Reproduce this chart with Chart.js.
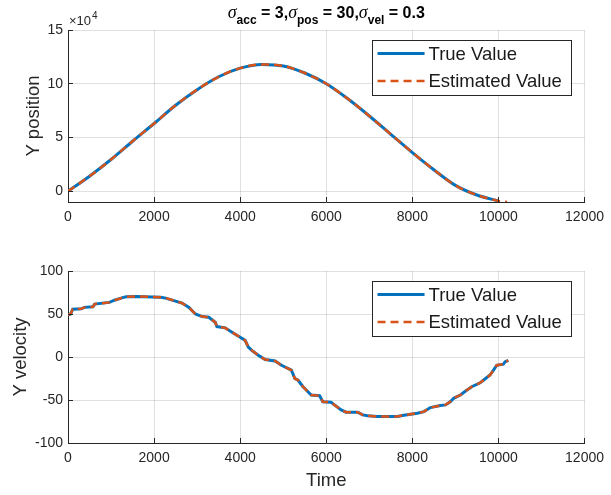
<!DOCTYPE html>
<html><head><meta charset="utf-8">
<script src="https://cdn.jsdelivr.net/npm/chart.js@4/dist/chart.umd.min.js"></script>
<style>
html,body{margin:0;padding:0;background:#fff;}
#wrap{position:relative;width:611px;height:495px;background:#fff;}
canvas{position:absolute;left:0;}
</style></head><body>
<div id="wrap">
<canvas id="c1" width="611" height="240" style="top:0px"></canvas>
<canvas id="c2" width="611" height="255" style="top:240px"></canvas>
</div>
<script>
// ---------- data ----------
const seriesNames = ['True Value', 'Estimated Value'];
const xTicks = [0, 2000, 4000, 6000, 8000, 10000, 12000];
const posTicks = [0, 50000, 100000, 150000];
const velTicks = [-100, -50, 0, 50, 100];
const xTitle = 'Time';
const posTitle = 'Y position';
const velTitle = 'Y velocity';
const posExponent = ['\u00d710', '4'];
const titleParts = [['\u03c3', 'sym'], ['acc', 'sub'], [' = 3,', 'main'], ['\u03c3', 'sym'], ['pos', 'sub'], [' = 30,', 'main'], ['\u03c3', 'sym'], ['vel', 'sub'], [' = 0.3', 'main']];

const posTimeTrue = [0, 500, 1000, 1500, 2000, 2500, 3000, 3500, 4000, 4500, 5000, 5500, 6000, 6500, 7000, 7500, 8000, 8500, 9000, 9500, 10000];
const posTrue = [0, 14000, 29500, 46500, 63000, 80000, 94500, 106500, 114500, 118000, 116500, 110000, 100000, 86000, 70000, 53000, 36000, 20000, 5500, -3500, -9000];
const posTimeEst = [0, 500, 1000, 1500, 2000, 2500, 3000, 3500, 4000, 4500, 5000, 5500, 6000, 6500, 7000, 7500, 8000, 8500, 9000, 9500, 10000, 10200];
const posEst = [0, 14000, 29500, 46500, 63000, 80000, 94500, 106500, 114500, 118000, 116500, 110000, 100000, 86000, 70000, 53000, 36000, 20000, 5500, -3500, -9000, -10000];

const velTime = [0, 60, 110, 310, 380, 580, 620, 960, 1080, 1270, 1350, 1580, 2150, 2270, 2420, 2650, 2810, 2880, 2960, 3115, 3270, 3420, 3460, 3650, 3810, 4000, 4115, 4190, 4270, 4420, 4580, 4810, 4960, 5190, 5270, 5345, 5460, 5575, 5650, 5845, 5920, 6110, 6190, 6345, 6460, 6730, 6845, 6960, 7190, 7650, 7805, 8115, 8270, 8420, 8650, 8770, 8880, 8960, 9115, 9270, 9380, 9575, 9650, 9805, 9885, 9960, 10115, 10150, 10230];
const velTrue = [49, 50, 55.5, 56, 57.7, 58.5, 61.5, 63.5, 66, 69, 70, 70.4, 69.5, 68.5, 66.2, 62.7, 57.7, 54, 50, 47, 46.2, 40.4, 35.4, 33.9, 28.8, 23, 19.3, 11.5, 7.7, 2, -3, -4.6, -9.6, -15.3, -25, -27, -34.6, -40.4, -44.2, -45, -52, -52.6, -55.7, -61.5, -64.2, -64.2, -67.3, -68.4, -69.2, -69.2, -67.7, -65.4, -63.5, -58.8, -56.5, -55.7, -52, -48, -44.2, -38.4, -34.6, -30, -27, -21, -15.3, -9.6, -8.4, -5.8, -4];
const velEst = [49, 50, 55.5, 56, 57.7, 58.5, 61.5, 63.5, 66, 69, 70, 70.4, 69.5, 68.5, 66.2, 62.7, 57.7, 54, 50, 47, 46.2, 40.4, 35.4, 33.9, 28.8, 23, 19.3, 11.5, 7.7, 2, -3, -4.6, -9.6, -15.3, -25, -27, -34.6, -40.4, -44.2, -45, -52, -52.6, -55.7, -61.5, -64.2, -64.2, -67.3, -68.4, -69.2, -69.2, -67.7, -65.4, -63.5, -58.8, -56.5, -55.7, -52, -48, -44.2, -38.4, -34.6, -30, -27, -21, -15.3, -9.6, -8.4, -5.8, -4];

// ---------- style ----------
const FONT = '"Liberation Sans", Arial, Helvetica, sans-serif';
const BLUE = '#0072BD', ORANGE = '#D95319', AXIS = '#262626', GRID = 'rgba(38,38,38,0.14)';
Chart.defaults.font.family = FONT;
Chart.defaults.color = AXIS;

const zip = (xs, ys) => xs.map((x, i) => ({x: x, y: ys[i]}));
const align = (p) => Math.round(p - 0.5) + 0.5;

function decor(isTop) {
  return {
    id: 'decor' + (isTop ? 1 : 2),
    afterDraw(chart) {
      const ctx = chart.ctx, ca = chart.chartArea, xs = chart.scales.x, ys = chart.scales.y;
      ctx.save();
      // inward tick marks
      ctx.strokeStyle = AXIS; ctx.lineWidth = 1;
      ctx.beginPath();
      xs.ticks.forEach(t => { const p = align(xs.getPixelForValue(t.value)); ctx.moveTo(p, ca.bottom); ctx.lineTo(p, ca.bottom - 5); });
      ys.ticks.forEach(t => { const p = align(ys.getPixelForValue(t.value)); ctx.moveTo(ca.left, p); ctx.lineTo(ca.left + 5, p); });
      ctx.stroke();
      // legend
      const lx = ca.right - 213, ly = ca.top + 10, lw = 199, lh = 55;
      ctx.fillStyle = '#fff';
      ctx.fillRect(lx, ly, lw, lh);
      ctx.strokeStyle = AXIS; ctx.lineWidth = 1;
      ctx.strokeRect(Math.round(lx) + 0.5, Math.round(ly) + 0.5, lw, lh);
      chart.data.datasets.forEach((ds, i) => {
        const yy = ly + 13.5 + i * 27.5;
        ctx.save();
        ctx.strokeStyle = ds.borderColor; ctx.lineWidth = ds.borderWidth;
        ctx.setLineDash(ds.borderDash || []);
        ctx.beginPath(); ctx.moveTo(lx + 6, yy); ctx.lineTo(lx + 53, yy); ctx.stroke();
        ctx.restore();
        ctx.fillStyle = '#1a1a1a';
        ctx.font = '18.5px ' + FONT;
        ctx.textBaseline = 'middle'; ctx.textAlign = 'left';
        ctx.fillText(ds.label, lx + 57, yy + 1);
      });
      if (isTop) {
        // exponent label
        ctx.fillStyle = AXIS; ctx.textBaseline = 'alphabetic'; ctx.textAlign = 'left';
        ctx.font = '13px ' + FONT;
        ctx.fillText(posExponent[0], ca.left + 1, 25);
        const w = ctx.measureText(posExponent[0]).width;
        ctx.font = '10px ' + FONT;
        ctx.fillText(posExponent[1], ca.left + 2 + w, 19);
        // title with subscripts
        const fonts = {main: 'bold 16px ' + FONT, sub: 'bold 12px ' + FONT, sym: 'italic 18px "Liberation Serif", serif'};
        let total = 0;
        const widths = titleParts.map(p => { ctx.font = fonts[p[1]]; const ww = ctx.measureText(p[0]).width; total += ww; return ww; });
        let x = (ca.left + ca.right) / 2 - total / 2;
        ctx.fillStyle = '#000';
        titleParts.forEach((p, i) => {
          ctx.font = fonts[p[1]];
          ctx.fillText(p[0], x, p[1] === 'sub' ? 23.5 : 18);
          x += widths[i];
        });
      }
      ctx.restore();
    }
  };
}

function makeChart(id, cfg) {
  const isTop = cfg.isTop;
  return new Chart(document.getElementById(id), {
    type: 'line',
    data: {
      datasets: [
        {label: seriesNames[0], order: 1, data: cfg.trueData, borderColor: BLUE, backgroundColor: BLUE, borderWidth: 3, pointRadius: 0, tension: 0, cubicInterpolationMode: cfg.smooth ? 'monotone' : 'default', fill: false},
        {label: seriesNames[1], order: 0, data: cfg.estData, borderColor: ORANGE, backgroundColor: ORANGE, borderWidth: 2.5, borderDash: [8, 5], pointRadius: 0, tension: 0, cubicInterpolationMode: cfg.smooth ? 'monotone' : 'default', fill: false}
      ]
    },
    options: {
      responsive: false, animation: false, devicePixelRatio: 1,
      layout: {padding: {left: 0, right: 23, top: cfg.padTop, bottom: 0}},
      plugins: {legend: {display: false}, tooltip: {enabled: false}},
      scales: {
        x: {
          type: 'linear', min: 0, max: 12000,
          afterBuildTicks: s => { s.ticks = xTicks.map(v => ({value: v})); },
          afterFit: s => { s.height = cfg.xHeight; },
          ticks: {font: {size: 14}, color: AXIS, padding: 7, maxRotation: 0, autoSkip: false, callback: v => String(v)},
          grid: {color: GRID, lineWidth: 1, drawTicks: false},
          border: {display: true, color: AXIS, width: 1},
          title: cfg.xTitle ? {display: true, text: cfg.xTitle, font: {size: 18.5}, color: AXIS, padding: {top: 0, bottom: 3}} : {display: false}
        },
        y: {
          type: 'linear', min: cfg.yMin, max: cfg.yMax,
          afterBuildTicks: s => { s.ticks = cfg.yTicks.map(v => ({value: v})); },
          afterFit: s => { s.width = 68; },
          ticks: {font: {size: 14}, color: AXIS, padding: 5, autoSkip: false, callback: cfg.yFmt},
          grid: {color: GRID, lineWidth: 1, drawTicks: false},
          border: {display: true, color: AXIS, width: 1},
          title: {display: true, text: cfg.yTitle, font: {size: 18.5}, color: AXIS, padding: {top: cfg.yTitlePad, bottom: 0}}
        }
      }
    },
    plugins: [decor(isTop)]
  });
}

makeChart('c1', {
  isTop: true, smooth: true,
  trueData: zip(posTimeTrue, posTrue), estData: zip(posTimeEst, posEst),
  yMin: -10000, yMax: 150000, yTicks: posTicks, yFmt: v => String(v / 10000),
  yTitle: posTitle, yTitlePad: 23, xTitle: null, xHeight: 38, padTop: 30
});
makeChart('c2', {
  isTop: false, smooth: false,
  trueData: zip(velTime, velTrue), estData: zip(velTime, velEst),
  yMin: -100, yMax: 100, yTicks: velTicks, yFmt: v => String(v),
  yTitle: velTitle, yTitlePad: 10, xTitle: xTitle, xHeight: 52, padTop: 31
});
</script>
</body></html>
